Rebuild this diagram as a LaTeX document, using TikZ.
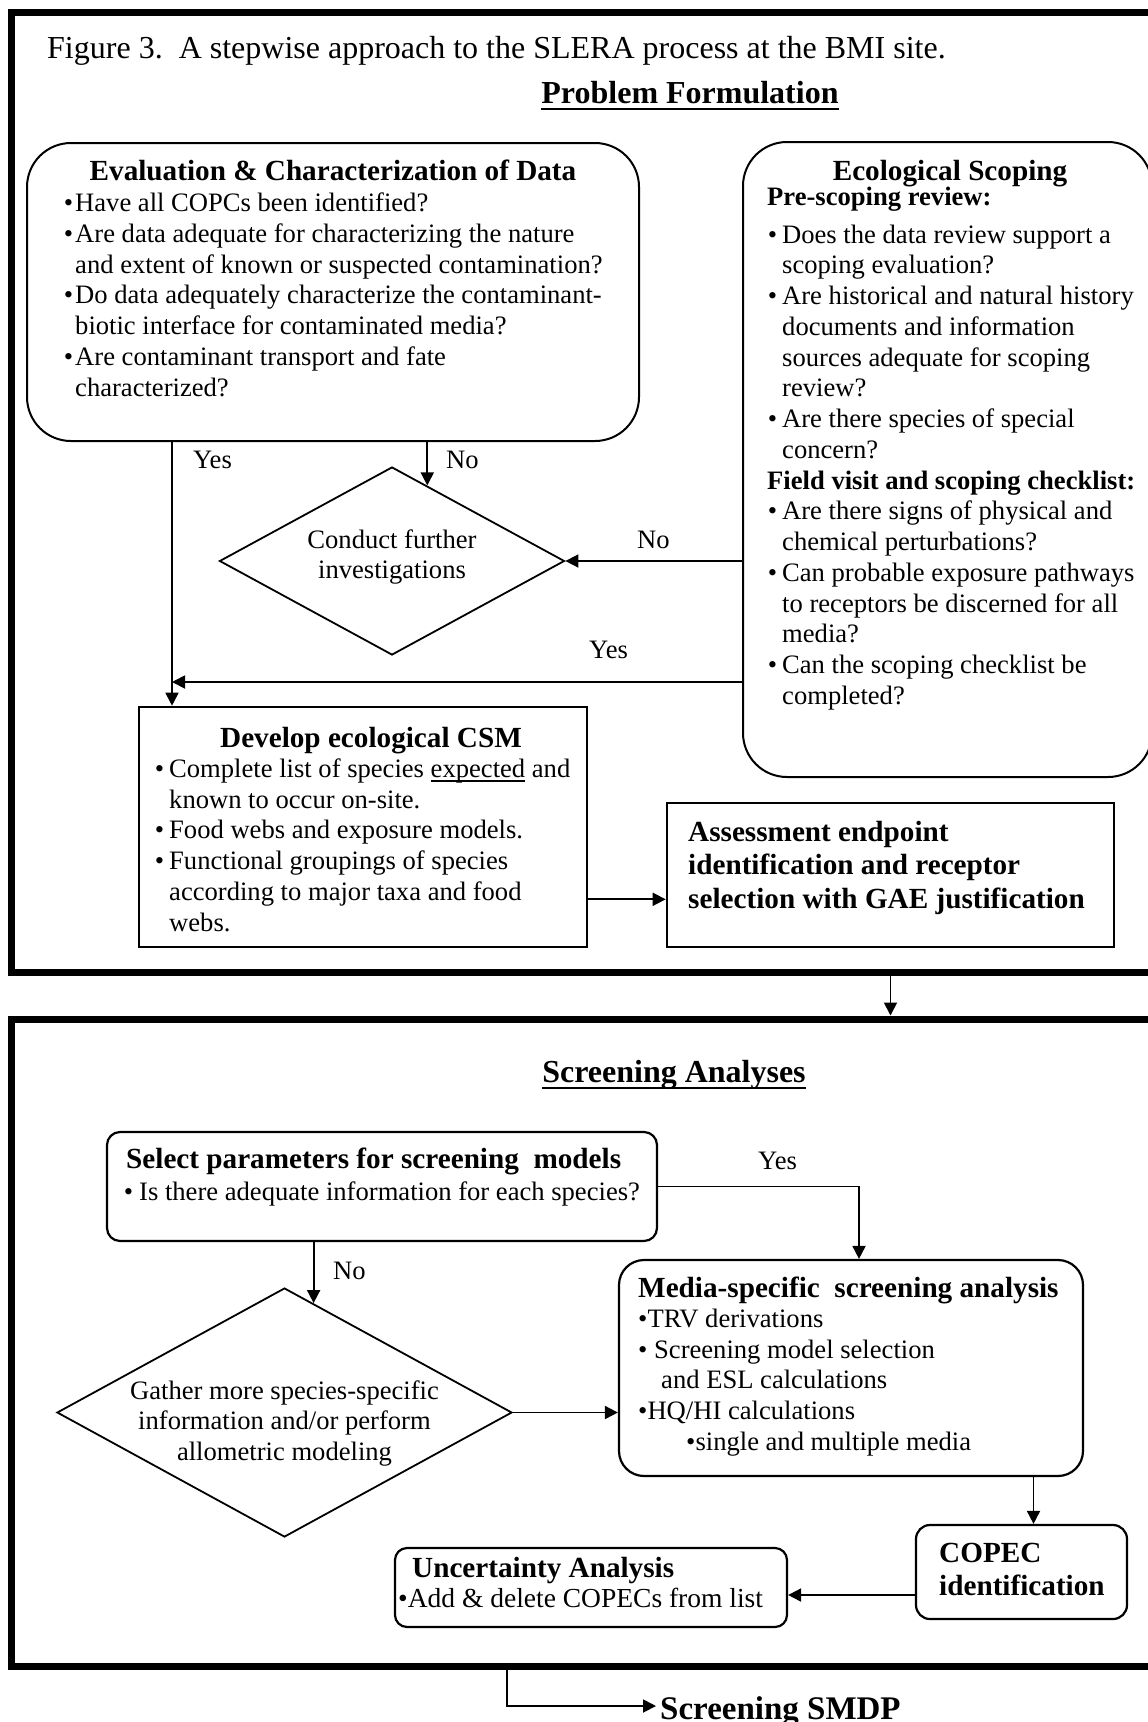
\documentclass[tikz,border=0pt]{standalone}
\usepackage{fontspec}
\setmainfont{Liberation Serif}
\usetikzlibrary{arrows.meta, shapes.geometric, calc}
% sizes: 1pt of the picture = 1px of the sheet
\newcommand{\fbody}[1][30.7]{\fontsize{26.6}{#1}\selectfont}
\newcommand{\fhead}[1][33]{\fontsize{29.2}{#1}\selectfont\bfseries}
\newcommand{\fsect}{\fontsize{32}{38}\selectfont\bfseries}
\newcommand{\ftitle}{\fontsize{32}{38}\selectfont}
\newcommand{\bl}[1][0pt]{\llap{\textbullet\hspace{#1}}}
\newcommand{\uword}[1]{\setbox0\hbox{#1}\rlap{\rule[-4pt]{\wd0}{1.6pt}}\box0\relax}

\begin{document}
\frenchspacing
\begin{tikzpicture}[x=1pt, y=-1pt,
    arr/.style={-{Triangle[length=13pt,width=13pt]}, line width=1.8pt},
    frame/.style={draw, line width=7pt, inner sep=0pt},
    rbox/.style={draw, line width=2pt, rounded corners=#1, inner sep=0pt},
    sbox/.style={draw, line width=2.6pt, inner sep=0pt},
    dia/.style={draw, diamond, line width=1.8pt, inner sep=0pt},
    txt/.style={anchor=base west, align=left, inner sep=0pt, font=\fbody},
    lbl/.style={anchor=base west, inner sep=0pt, font=\fbody}]
  \useasboundingbox (0,0) rectangle (1148,1722);
  \clip (0,0) rectangle (1148,1722);

  % the two frames
  \node[frame, minimum width=1163.5pt, minimum height=960pt] (frameA) at (593.25,492) {};
  \node[frame, minimum width=1163.5pt, minimum height=647pt] (frameB) at (593.25,1342.5) {};

  \node[font=\ftitle, anchor=base west, inner sep=0pt] (title) at (47,58)
    {Figure 3.\ \ A stepwise approach to the SLERA process at the BMI site.};
  \node[font=\fsect, anchor=base, inner sep=0pt] (pf) at (690,103) {Problem Formulation};
  \draw[line width=2.4pt] ($(pf.base west)+(0,6)$) -- ($(pf.base east)+(0,6)$);

  % Problem formulation boxes (multi-line texts sit on their last baseline)
  \node[rbox=44pt, minimum width=612pt, minimum height=298pt] (eval) at (333,292) {};
  \node[font=\fhead, anchor=base, inner sep=0pt] (evalhead) at (333,180)
    {Evaluation \& Characterization of Data};
  \node[txt] (evaltext) at (75,396) {%
    \bl[2pt]Have all COPCs been identified?\\
    \bl[2pt]Are data adequate for characterizing the nature\\
    and extent of known or suspected contamination?\\
    \bl[2pt]Do data adequately characterize the contaminant-\\
    biotic interface for contaminated media?\\
    \bl[2pt]Are contaminant transport and fate\\
    characterized?};

  \node[rbox=44pt, minimum width=409pt, minimum height=635pt] (eco) at (947.5,459.5) {};
  \node[font=\fhead, anchor=base, inner sep=0pt] (ecohead) at (950,180) {Ecological Scoping};
  \node[txt, font={\fbody[30.75]}] (ecotext) at (782,704.4) {%
    \hspace*{-15pt}\textbf{Pre-scoping review:}\\[6.6pt]
    \bl[5pt]Does the data review support a\\
    scoping evaluation?\\
    \bl[5pt]Are historical and natural history\\
    documents and information\\
    sources adequate for scoping\\
    review?\\
    \bl[5pt]Are there species of special\\
    concern?\\
    \hspace*{-15pt}\textbf{Field visit and scoping checklist:}\\
    \bl[5pt]Are there signs of physical and\\
    chemical perturbations?\\
    \bl[5pt]Can probable exposure pathways\\
    to receptors be discerned for all\\
    media?\\
    \bl[5pt]Can the scoping checklist be\\
    completed?};

  \node[dia, minimum width=345pt, minimum height=188pt] (d1) at (392,561) {};
  \node[font={\fbody[30]}, align=center, anchor=base, inner sep=0pt] (d1text) at (392,578)
    {Conduct further\\investigations};

  \node[sbox, minimum width=448pt, minimum height=240pt] (develop) at (363,827) {};
  \node[font=\fhead, anchor=base, inner sep=0pt] (develophead) at (371,747) {Develop ecological CSM};
  \node[txt, font={\fbody[30.7]}] (developtext) at (169,931) {%
    \bl[5pt]Complete list of species \uword{expected} and\\
    known to occur on-site.\\
    \bl[5pt]Food webs and exposure models.\\
    \bl[5pt]Functional groupings of species\\
    according to major taxa and food\\
    webs.};

  \node[sbox, minimum width=447pt, minimum height=144pt] (assess) at (890.5,875) {};
  \node[txt, font={\fhead[33.5]}] (assesstext) at (688,908) {%
    Assessment endpoint\\
    identification and receptor\\
    selection with GAE justification};

  % connectors, problem formulation
  \coordinate (join) at (172,682);
  \coordinate (nohit) at ($(d1.north)!0.2035!(d1.east)$);
  \coordinate (da) at ($(develop.south east)+(0,-49)$);
  \draw[arr] (eval.south -| join) -- (develop.north -| join);
  \draw[arr] (eval.south -| nohit) -- (nohit);
  \draw[arr] (eco.west |- d1.east) -- (d1.east);
  \draw[arr] (eco.west |- join) -- (join);
  \draw[arr] (da) -- (da -| assess.west);
  \node[lbl] (yes1) at (193,468) {Yes};
  \node[lbl] (no1) at (446,468) {No};
  \node[lbl] (no2) at (637,548) {No};
  \node[lbl] (yes2) at (589,658) {Yes};

  \draw[arr] (frameA.south -| assess.south) -- (frameB.north -| assess.south);

  % Screening analyses
  \node[font=\fsect, anchor=base, inner sep=0pt] (sa) at (674,1082) {Screening Analyses};
  \draw[line width=2.4pt] ($(sa.base west)+(0,6)$) -- ($(sa.base east)+(0,6)$);

  \node[rbox=13pt, line width=2.2pt, minimum width=550pt, minimum height=109pt] (select) at (382,1186.5) {};
  \node[txt, font={\fbody[32]}] (selecttext) at (139,1200) {%
    \hspace*{-13pt}{\fhead Select parameters for screening\ \ models}\\
    \bl[6pt]Is there adequate information for each species?};

  \node[dia, minimum width=455pt, minimum height=249pt] (d2) at (284.5,1412.5) {};
  \node[font={\fbody[30.5]}, align=center, anchor=base, inner sep=0pt] (d2text) at (284.5,1460)
    {Gather more species-specific\\information and/or perform\\allometric modeling};

  \node[rbox=25pt, line width=2.2pt, minimum width=464pt, minimum height=216pt] (media) at (851,1368) {};
  \node[txt, font={\fbody[30.6]}] (mediatext) at (638,1450) {%
    {\fhead Media-specific\ \ screening analysis}\\
    \textbullet TRV derivations\\
    \textbullet\ Screening model selection\\
    \hspace*{23pt}and ESL calculations\\
    \textbullet HQ/HI calculations\\
    \hspace*{48pt}\textbullet single and multiple media};

  \node[rbox=14pt, line width=2.2pt, minimum width=211pt, minimum height=94pt] (copec) at (1021.5,1572) {};
  \node[txt, font={\fhead[33]}] (copectext) at (939,1595) {COPEC\\identification};

  \node[rbox=12pt, line width=2.2pt, minimum width=392pt, minimum height=79pt] (uncert) at (591,1587.5) {};
  \node[txt, font={\fontsize{27.5}{30}\selectfont}] (uncerttext) at (398,1607) {%
    \hspace*{14pt}{\fhead Uncertainty Analysis}\\
    \textbullet Add \& delete COPECs from list};

  % connectors, screening
  \coordinate (nohit2) at ($(d2.north)!0.1275!(d2.east)$);
  \coordinate (cp) at ($(copec.north)+(12,0)$);
  \coordinate (cu) at ($(copec.west)+(0,23)$);
  \coordinate (drop) at (507,1706);
  \draw[arr] (select.east) -| ($(media.north)+(8,0)$);
  \draw[arr] (select.south -| nohit2) -- (nohit2);
  \draw[arr] (d2.east) -- (d2.east -| media.west);
  \draw[arr] (media.south -| cp) -- (cp);
  \draw[arr] (cu) -- (uncert.east |- cu);
  \node[lbl] (yes3) at (758,1169) {Yes};
  \node[lbl] (no3) at (333,1279) {No};

  \node[font=\fontsize{33}{36}\selectfont\bfseries, anchor=base west, inner sep=0pt, inner xsep=4pt] (smdp) at (656,1719) {Screening SMDP};
  \draw[arr] (frameB.south -| drop) |- (smdp.west |- drop);
\end{tikzpicture}
\end{document}
